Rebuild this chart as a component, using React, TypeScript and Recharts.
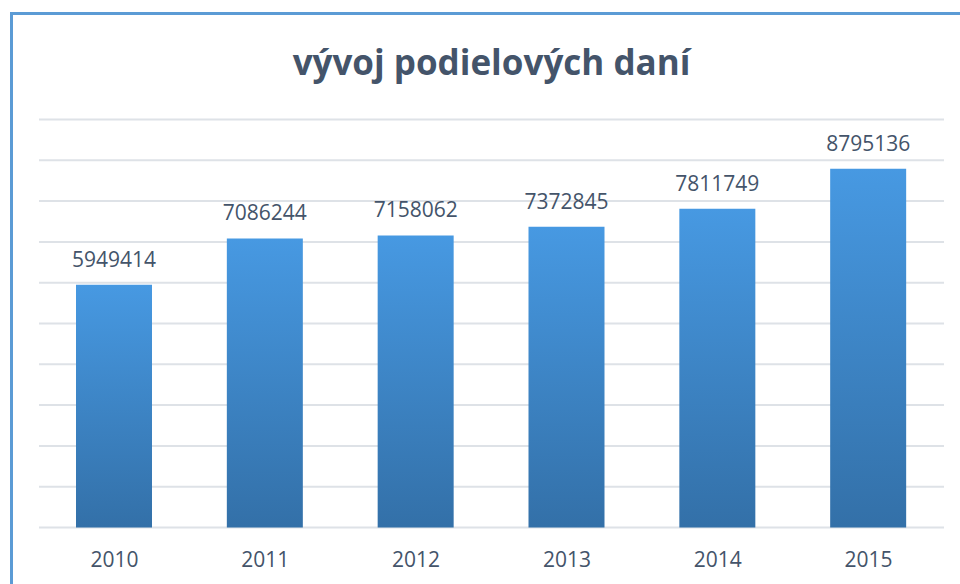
import { Bar, BarChart, CartesianGrid, LabelList, XAxis, YAxis } from 'recharts'

const roky = ['2010', '2011', '2012', '2013', '2014', '2015']
const dane = [5949414, 7086244, 7158062, 7372845, 7811749, 8795136]
const yTicks = [0, 1000000, 2000000, 3000000, 4000000, 5000000, 6000000, 7000000, 8000000, 9000000, 10000000]

const data = roky.map((rok, i) => ({ rok, hodnota: dane[i] }))

const textColor = '#44546a'
const font = '"Open Sans", "Noto Sans", sans-serif'

export default function App() {
  return (
    <div
      style={{
        position: 'absolute',
        left: 0,
        top: 0,
        width: 960,
        height: 584,
        overflow: 'hidden',
        background: '#fff',
        fontFamily: font,
      }}
    >
      {/* ramček grafu, pravá a spodná strana sú orezané */}
      <div
        style={{
          position: 'absolute',
          left: 10,
          top: 12,
          width: 1000,
          height: 620,
          borderLeft: '3px solid #5b9bd5',
          borderTop: '3px solid #5b9bd5',
        }}
      />
      <div
        style={{
          position: 'absolute',
          left: 39,
          width: 905,
          top: 40,
          textAlign: 'center',
          fontSize: 35,
          fontWeight: 700,
          color: textColor,
          lineHeight: '44px',
        }}
      >
        vývoj podielových daní
      </div>
      <div style={{ position: 'absolute', left: 0, top: 0 }}>
        <BarChart
          width={960}
          height={584}
          data={data}
          margin={{ top: 119.5, right: 16, left: 39, bottom: 26.5 }}
          barSize={76}
        >
          <defs>
            <linearGradient id="gDane" x1="0" y1="0" x2="0" y2="1">
              <stop offset="0%" stopColor="#4799e2" />
              <stop offset="100%" stopColor="#3370a8" />
            </linearGradient>
          </defs>
          <CartesianGrid
            vertical={false}
            stroke="#dee2e7"
            strokeWidth={2}
          />
          <XAxis
            dataKey="rok"
            axisLine={false}
            tickLine={false}
            tickMargin={19}
            height={30}
            tick={{ fill: textColor, fontSize: 21, fontFamily: font }}
          />
          <YAxis hide domain={[0, 10000000]} ticks={yTicks} />
          <Bar dataKey="hodnota" fill="url(#gDane)" isAnimationActive={false}>
            <LabelList
              dataKey="hodnota"
              position="top"
              offset={18}
              fill={textColor}
              fontSize={21}
              fontFamily={font}
            />
          </Bar>
        </BarChart>
      </div>
    </div>
  )
}
